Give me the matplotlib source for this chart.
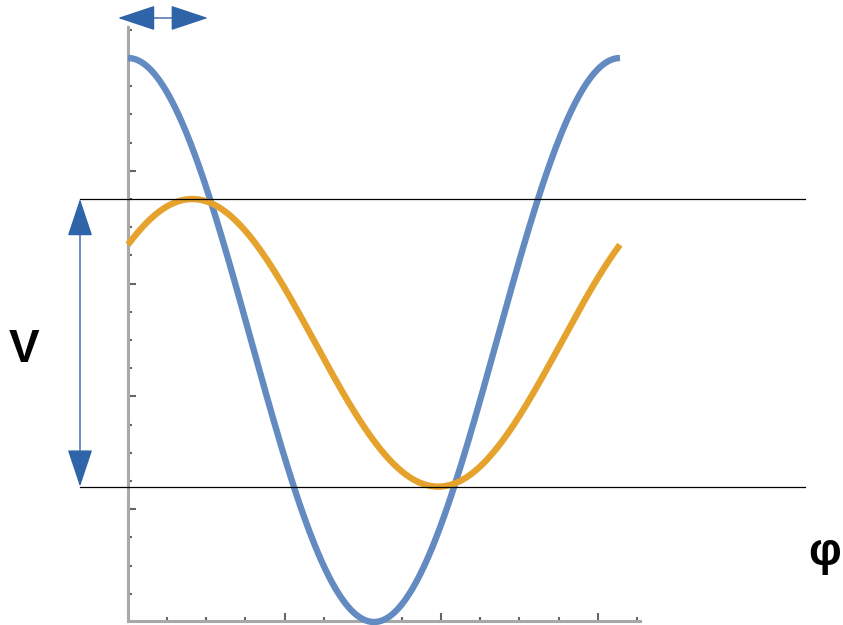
import numpy as np
import matplotlib
matplotlib.use("Agg")
import matplotlib.pyplot as plt
from matplotlib.patches import ArrowStyle

# curve parameters (phi in radians)
blue_amp = 1.0
orange_amp = 0.51
orange_offset = -0.01
orange_phase = 0.82
phi = np.linspace(0, 2 * np.pi, 400)
blue_v = blue_amp * np.cos(phi)
orange_v = orange_offset + orange_amp * np.cos(phi - orange_phase)

# annotation positions
line_left, line_right = -0.613, 8.65
shift_arrow = [-0.128, 1.02]
shift_arrow_v = 1.142
v_arrow_phi = -0.613

x_major = [2, 4, 6]
x_minor = np.arange(0.5, 6.6, 0.5)
y_major = [-0.6, -0.2, 0.2, 0.6, 1.0]
y_minor = np.arange(-0.9, 1.11, 0.1)

blue = "#648AC2"
orange = "#E5A22C"
arrow_blue = "#3064A8"

fig = plt.figure(figsize=(8.43, 6.25), dpi=100)
ax = fig.add_axes([128 / 843, 4 / 625, 512 / 843, 594 / 625])
ax.set_xlim(0, 6.539)
ax.set_ylim(-0.9965, 1.110)
ax.patch.set_alpha(0)

for s in ["top", "right"]:
    ax.spines[s].set_visible(False)
for s in ["left", "bottom"]:
    ax.spines[s].set_color("#a8a8a8")
    ax.spines[s].set_linewidth(2.2)

ax.set_xticks(x_major)
ax.set_xticks(x_minor, minor=True)
ax.set_yticks(y_major)
ax.set_yticks(y_minor, minor=True)
ax.tick_params(which="both", direction="in", color="#666666", width=1.5,
               labelbottom=False, labelleft=False)
ax.tick_params(which="major", length=6)
ax.tick_params(which="minor", length=3)

ax.plot(phi, blue_v, color=blue, lw=4.6, clip_on=False, solid_capstyle="butt", zorder=3)
ax.plot(phi, orange_v, color=orange, lw=4.6, clip_on=False, solid_capstyle="butt", zorder=3)

# peak / trough guide lines of the orange curve
top_v = orange_offset + orange_amp
bot_v = orange_offset - orange_amp
for v in [top_v, bot_v]:
    ax.plot([line_left, line_right], [v, v], color="black", lw=0.9, clip_on=False, zorder=4)

style = ArrowStyle("<|-|>", head_length=2.4, head_width=0.8)
ax.annotate("", xy=(v_arrow_phi, top_v), xytext=(v_arrow_phi, bot_v),
            arrowprops=dict(arrowstyle=style, color=arrow_blue, lw=1.0,
                            shrinkA=0, shrinkB=0, mutation_scale=10),
            annotation_clip=False)
ax.annotate("", xy=(shift_arrow[0], shift_arrow_v), xytext=(shift_arrow[1], shift_arrow_v),
            arrowprops=dict(arrowstyle=style, color=arrow_blue, lw=1.0,
                            shrinkA=0, shrinkB=0, mutation_scale=10),
            annotation_clip=False)

fig.text(24 / 843, 1 - 350 / 625, "V", fontsize=33, fontweight="bold",
         family="Liberation Sans", ha="center", va="center")
fig.text(825 / 843, 1 - 553 / 625, "φ", fontsize=33, fontweight="bold",
         family="Liberation Sans", ha="center", va="center")

fig.savefig("out.png", dpi=100)
